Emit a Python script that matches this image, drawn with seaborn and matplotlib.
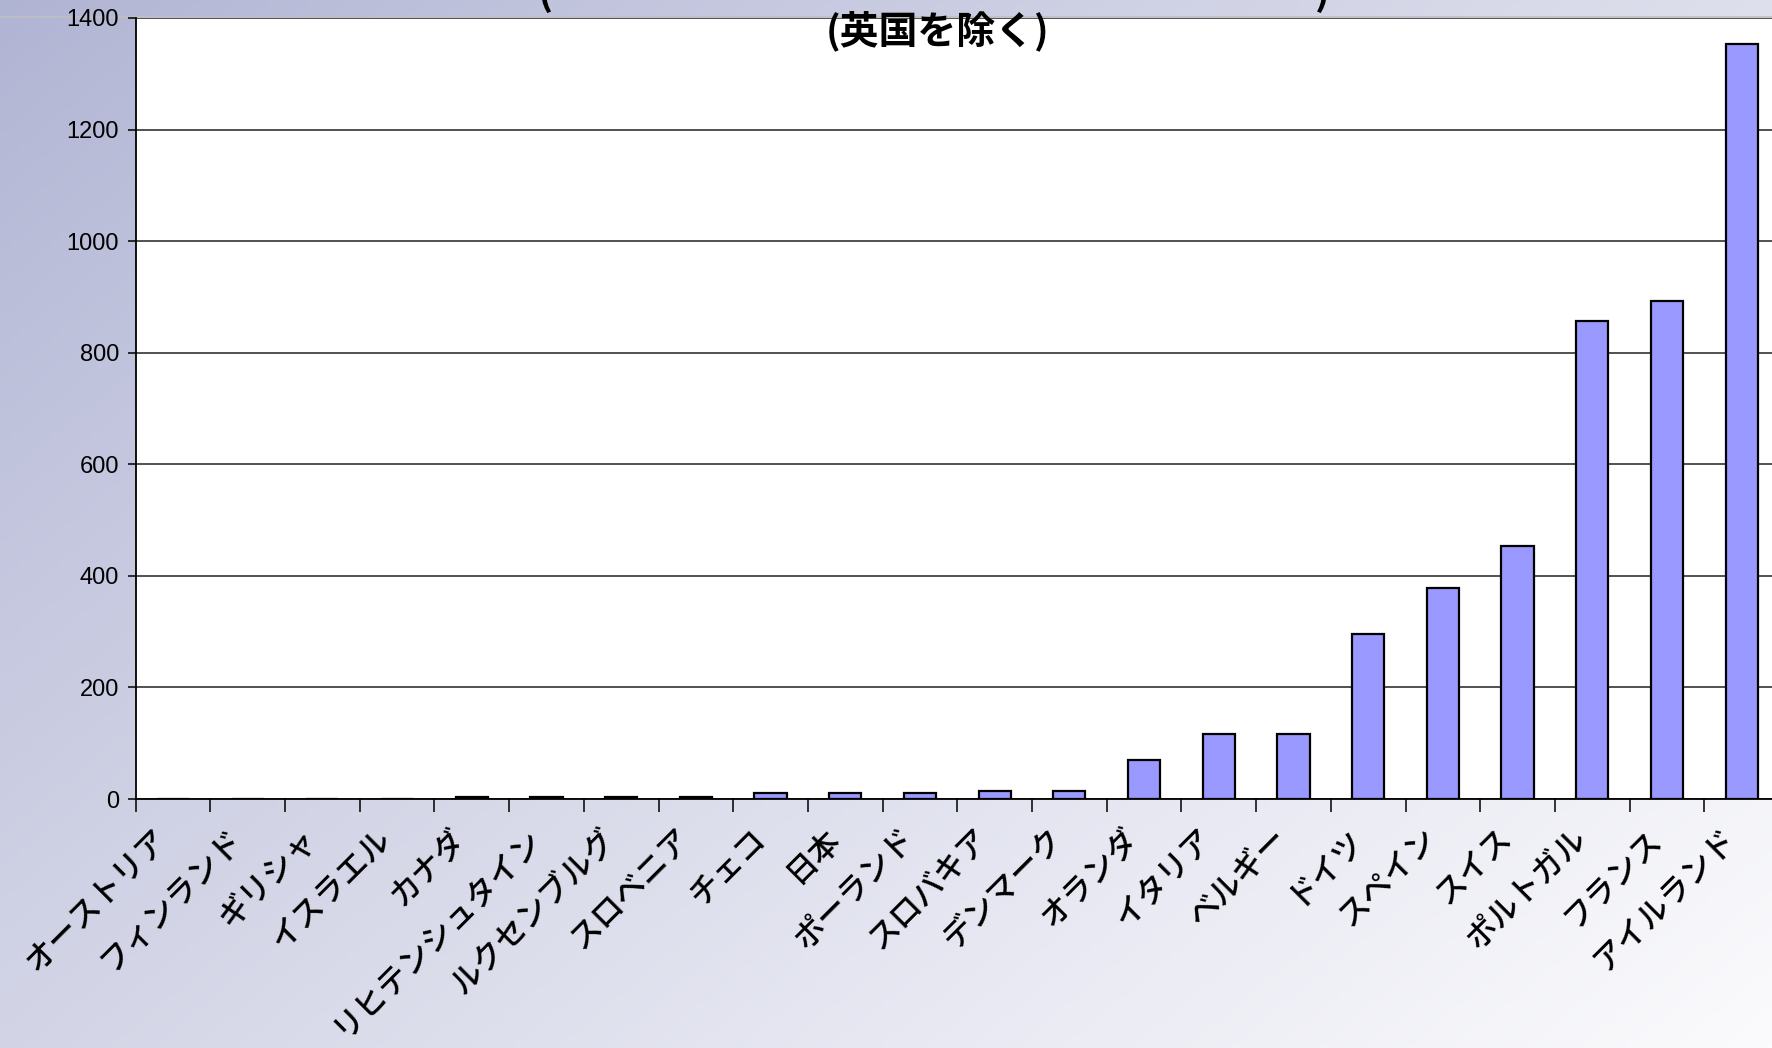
import numpy as np
import pandas as pd
import matplotlib
matplotlib.use("Agg")
import matplotlib.pyplot as plt
import matplotlib.transforms as mtransforms
import seaborn as sns

countries = [
    "オーストリア", "フィンランド", "ギリシャ", "イスラエル", "カナダ",
    "リヒテンシュタイン", "ルクセンブルグ", "スロベニア", "チェコ", "日本",
    "ポーランド", "スロバキア", "デンマーク", "オランダ", "イタリア",
    "ベルギー", "ドイツ", "スペイン", "スイス", "ポルトガル",
    "フランス", "アイルランド",
]
values = [
    0, 0, 0, 0, 3,
    3, 3, 3, 10, 10,
    10, 14, 14, 70, 117,
    117, 296, 378, 453, 857,
    892, 1353,
]
yticks = [0, 200, 400, 600, 800, 1000, 1200, 1400]
subtitle = "(英国を除く)"

sns.set_theme(style="white")
plt.rcParams["font.family"] = ["Noto Sans CJK JP", "DejaVu Sans"]
plt.rcParams["text.color"] = "black"

W, H, DPI = 1772, 1048, 100
fig = plt.figure(figsize=(W / DPI, H / DPI), dpi=DPI)

# Slide-style background: bluish grey fading to near white at the lower right
bg_ax = fig.add_axes([0, 0, 1, 1], zorder=-10)
gx, gy = np.meshgrid(np.linspace(0, 1, 400), np.linspace(0, 1, 240))
f = np.clip(0.58 * gx + 0.42 * gy, 0, 1) ** 0.9
dark = np.array([176, 180, 211]) / 255.0
light = np.array([251, 251, 253]) / 255.0
img = dark[None, None, :] + (light - dark)[None, None, :] * f[..., None]
bg_ax.imshow(img, aspect="auto", extent=[0, 1, 0, 1], origin="upper")
bg_ax.set_axis_off()

left_px, right_px, top_px, zero_px = 135.6, 1779, 18, 799
ax = fig.add_axes([left_px / W, 1 - zero_px / H,
                   (right_px - left_px) / W, (zero_px - top_px) / H])
ax.set_facecolor("white")

df = pd.DataFrame({"country": countries, "value": values})
sns.barplot(data=df, x="country", y="value", color="#9999FF", saturation=1,
            edgecolor="black", linewidth=1.6, width=0.43, ax=ax, zorder=3)

ax.set_xlim(-0.5, len(countries) - 0.5)
ax.set_ylim(0, 1400)
ax.set_yticks(yticks)
ax.set_yticklabels([str(v) for v in yticks], family="Liberation Sans",
                   fontsize=17, color="black")
ax.yaxis.grid(True, color="#222222", linewidth=1.1)
ax.set_axisbelow(True)
ax.tick_params(axis="y", direction="out", length=6, width=1.1,
               color="black", pad=6, left=True)

# Category separators as outward ticks on the x axis
ax.set_xticks(np.arange(len(countries)))
ax.set_xticklabels(countries, rotation=45, ha="right", va="center",
                   rotation_mode="anchor", fontsize=22.5, fontweight="medium",
                   color="black")
ax.set_xticks(np.arange(len(countries) + 1) - 0.5, minor=True)
ax.tick_params(axis="x", which="major", length=0, pad=25)
ax.tick_params(axis="x", which="minor", direction="out", length=9,
               width=1.1, color="black", bottom=True)
shift = mtransforms.ScaledTranslation(-10 / DPI, 0, fig.dpi_scale_trans)
for lab in ax.get_xticklabels():
    lab.set_transform(lab.get_transform() + shift)
ax.set_xlabel("")
ax.set_ylabel("")

for side in ("top", "right"):
    ax.spines[side].set_visible(False)
for side in ("left", "bottom"):
    ax.spines[side].set_color("black")
    ax.spines[side].set_linewidth(1.3)

# Header strip edge above the plot area, kept beneath the axes
fig.add_artist(plt.Line2D([0, 1], [1 - 17 / H] * 2, color="#bfbfc4",
                          linewidth=1.2, transform=fig.transFigure,
                          zorder=-5))

# Title (upper line runs past the top edge of the slide)
fig.text(545 / W, 1 - 14 / H, "(", fontsize=29, fontweight="bold",
         ha="center", va="bottom", color="black")
fig.text(1322 / W, 1 - 14 / H, ")", fontsize=29, fontweight="bold",
         ha="center", va="bottom", color="black")
fig.text(938 / W, 1 - 31 / H, subtitle, fontsize=28, fontweight="bold",
         ha="center", va="center", color="black")

fig.savefig("out.png", dpi=DPI)
